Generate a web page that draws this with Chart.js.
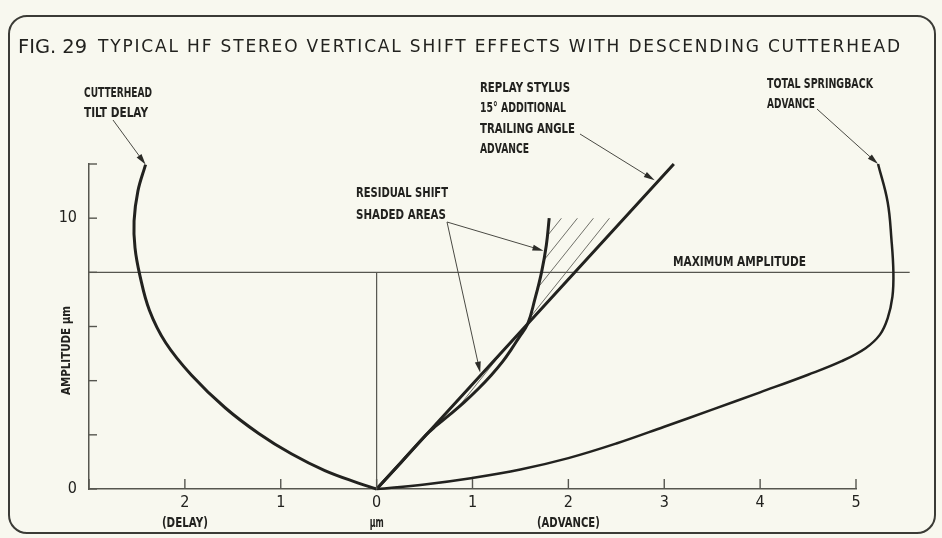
<!DOCTYPE html>
<html>
<head>
<meta charset="utf-8">
<title>Fig. 29</title>
<script src="https://cdn.jsdelivr.net/npm/chart.js@4.4.1/dist/chart.umd.min.js"></script>
<style>
  html, body { margin: 0; background: #f8f8ef; }
  canvas { display: block; }
</style>
</head>
<body>
<canvas id="shiftChart" width="942" height="538"></canvas>
<script>
// x: horizontal shift in µm (delay to the left of 0, advance to the right), y: amplitude in µm
const xTickLabels = ["", "2", "1", "0", "1", "2", "3", "4", "5"];
const xSubLabels = ["", "(DELAY)", "", "µm", "", "(ADVANCE)", "", "", ""];
const yTickLabels = ["0", "", "", "", "", "10", ""];

// cutterhead tilt delay
const tiltX = [0, -0.19, -0.54, -0.89, -1.23, -1.58, -1.93, -2.2, -2.37, -2.47, -2.52, -2.53, -2.49, -2.41];
const tiltY = [0, 0.22, 0.68, 1.3, 2.05, 3.0, 4.2, 5.4, 6.6, 7.9, 8.9, 9.9, 11.0, 11.98];

// replay stylus, 15° additional trailing angle (straight)
const stylusX = [0, 3.1];
const stylusY = [0, 12.0];

// residual shift after the stylus correction
const residualX = [0, 0.26, 0.517, 0.609, 0.747, 0.912, 1.061, 1.195, 1.314, 1.413, 1.486, 1.576, 1.65, 1.72, 1.77, 1.8];
const residualY = [0, 1, 2, 2.3, 2.7, 3.2, 3.7, 4.2, 4.7, 5.2, 5.6, 6.1, 7, 8, 9, 10];

// total springback advance
const springX = [0, 0.5, 1.0, 1.5, 2.0, 2.5, 3.0, 3.5, 4.0, 4.5, 4.85, 5.1, 5.25, 5.33, 5.38, 5.39, 5.37, 5.33, 5.23];
const springY = [0, 0.17, 0.41, 0.72, 1.14, 1.68, 2.3, 2.93, 3.57, 4.22, 4.72, 5.2, 5.7, 6.3, 7.1, 8.0, 9.2, 10.6, 12.0];

const maxAmplitude = 8;
const maxLineX = [-3, 5.56];

// y limits of the two shaded areas between stylus line and residual curve
const lensFrom = 2;
const crossing = 6.1;
const shadeTop = 10;

const ink = "#22221f";
const guide = "#56564f";
const paper = "#f8f8ef";
const narrow = "'Liberation Sans Narrow', 'DejaVu Sans Condensed', sans-serif";

const pts = (xs, ys) => xs.map((x, i) => ({ x, y: ys[i] }));

const stylusSlope = stylusX[1] / stylusY[1];

// residual curve between two heights, closed back along the stylus line
function shadedArea(yFrom, yTo) {
  const area = [];
  residualY.forEach((y, i) => {
    if (y >= yFrom && y <= yTo) area.push({ x: residualX[i], y });
  });
  area.push({ x: yTo * stylusSlope, y: yTo });
  area.push({ x: yFrom * stylusSlope, y: yFrom });
  return area;
}

function hatchPattern() {
  const tile = document.createElement("canvas");
  tile.width = 16;
  tile.height = 20;
  const t = tile.getContext("2d");
  t.strokeStyle = "#707069";
  t.lineWidth = 1;
  [-16, 0, 16].forEach(dx => {
    t.beginPath();
    t.moveTo(dx, 20);
    t.lineTo(dx + 16, 0);
    t.stroke();
  });
  return t.createPattern(tile, "repeat");
}

function curve(data, width) {
  return {
    data,
    showLine: true,
    borderColor: ink,
    borderWidth: width,
    pointRadius: 0,
    tension: 0.4,
    fill: false,
    clip: false,
    order: 0
  };
}

function guideLine(data) {
  return {
    data,
    showLine: true,
    borderColor: guide,
    borderWidth: 1.2,
    pointRadius: 0,
    tension: 0,
    fill: false,
    clip: false,
    order: 1
  };
}

function shade(data) {
  return {
    data,
    showLine: true,
    borderWidth: 0,
    borderColor: "rgba(0,0,0,0)",
    backgroundColor: hatchPattern(),
    pointRadius: 0,
    tension: 0,
    fill: "shape",
    order: 2
  };
}

// text fitted to a given width, letter-spaced or squeezed
function fitText(ctx, text, x, y, width) {
  ctx.save();
  ctx.letterSpacing = "0px";
  const natural = ctx.measureText(text).width;
  ctx.translate(x, y);
  if (natural > width) {
    ctx.scale(width / natural, 1);
  } else if (text.length > 1) {
    ctx.letterSpacing = (width - natural) / (text.length - 1) + "px";
  }
  ctx.fillText(text, 0, 0);
  ctx.restore();
}

function arrow(ctx, x0, y0, x1, y1) {
  const a = Math.atan2(y1 - y0, x1 - x0);
  const c = Math.cos(a);
  const s = Math.sin(a);
  ctx.beginPath();
  ctx.moveTo(x0, y0);
  ctx.lineTo(x1 - 8 * c, y1 - 8 * s);
  ctx.stroke();
  ctx.beginPath();
  ctx.moveTo(x1, y1);
  ctx.lineTo(x1 - 11 * c + 3 * s, y1 - 11 * s - 3 * c);
  ctx.lineTo(x1 - 11 * c - 3 * s, y1 - 11 * s + 3 * c);
  ctx.closePath();
  ctx.fill();
}

// label text, left x, baseline, width
const notes = [
  ["CUTTERHEAD", 84, 97, 68],
  ["TILT DELAY", 84, 117, 64],
  ["REPLAY STYLUS", 480, 92, 90],
  ["15° ADDITIONAL", 480, 112, 86],
  ["TRAILING ANGLE", 480, 133, 95],
  ["ADVANCE", 480, 153, 49],
  ["RESIDUAL SHIFT", 356, 197, 92],
  ["SHADED AREAS", 356, 219, 90],
  ["MAXIMUM AMPLITUDE", 673, 266, 133],
  ["TOTAL SPRINGBACK", 767, 88, 106],
  ["ADVANCE", 767, 108, 48]
];

// widths of the second row under the x axis
const subWidths = { "(DELAY)": 46, "µm": 14, "(ADVANCE)": 63 };

// leader start (px) and the point on the curve it points at (data)
const leaders = [
  [113, 120, tiltX[tiltX.length - 1], tiltY[tiltY.length - 1]],
  [580, 134, 2.9, 11.4],
  [447, 222, 1.74, 8.8],
  [447, 222, 1.08, 4.3],
  [817, 109, springX[springX.length - 1], springY[springY.length - 1]]
];

const figure = {
  id: "figure",
  beforeDraw(chart) {
    const { ctx, width, height } = chart;
    ctx.save();
    ctx.fillStyle = paper;
    ctx.fillRect(0, 0, width, height);
    ctx.strokeStyle = "#3b3b36";
    ctx.lineWidth = 2;
    ctx.beginPath();
    ctx.roundRect(9, 16, 926, 517, 18);
    ctx.stroke();
    ctx.restore();
  },
  afterDraw(chart) {
    const { ctx } = chart;
    const xs = chart.scales.x;
    const ys = chart.scales.y;
    ctx.save();

    // tick marks point into the plot
    ctx.strokeStyle = guide;
    ctx.lineWidth = 1.4;
    xs.ticks.forEach(t => {
      const p = xs.getPixelForValue(t.value);
      ctx.beginPath();
      ctx.moveTo(p, ys.bottom);
      ctx.lineTo(p, ys.bottom - 10);
      ctx.stroke();
    });
    ys.ticks.forEach(t => {
      const p = ys.getPixelForValue(t.value);
      ctx.beginPath();
      ctx.moveTo(xs.left, p);
      ctx.lineTo(xs.left + 8, p);
      ctx.stroke();
    });

    ctx.fillStyle = ink;
    ctx.textAlign = "left";
    ctx.textBaseline = "alphabetic";

    ctx.font = "20px 'DejaVu Sans', sans-serif";
    fitText(ctx, "FIG. 29", 18, 53, 69);
    ctx.font = "17px 'DejaVu Sans', sans-serif";
    fitText(ctx, "TYPICAL HF STEREO VERTICAL SHIFT EFFECTS WITH DESCENDING CUTTERHEAD", 98, 52, 802);

    ctx.font = "bold 14px " + narrow;
    notes.forEach(([text, x, y, w]) => fitText(ctx, text, x, y, w));

    // second row of x labels
    ctx.font = "bold 14px " + narrow;
    xs.ticks.forEach((t, i) => {
      const sub = xSubLabels[i];
      if (!sub) return;
      const w = subWidths[sub];
      fitText(ctx, sub, xs.getPixelForValue(t.value) - w / 2, 527, w);
    });

    ctx.save();
    ctx.translate(70, 395);
    ctx.rotate(-Math.PI / 2);
    ctx.font = "bold 12px " + narrow;
    fitText(ctx, "AMPLITUDE µm", 0, 0, 89);
    ctx.restore();

    ctx.strokeStyle = "#4a4a44";
    ctx.fillStyle = "#2c2c28";
    ctx.lineWidth = 1;
    leaders.forEach(([x0, y0, tx, ty]) => {
      arrow(ctx, x0, y0, xs.getPixelForValue(tx), ys.getPixelForValue(ty));
    });

    ctx.restore();
  }
};

new Chart(document.getElementById("shiftChart"), {
  type: "scatter",
  data: {
    datasets: [
      curve(pts(tiltX, tiltY), 3),
      curve(pts(stylusX, stylusY), 3),
      curve(pts(residualX, residualY), 3),
      curve(pts(springX, springY), 2.5),
      guideLine(pts(maxLineX, [maxAmplitude, maxAmplitude])),
      guideLine(pts([0, 0], [0, maxAmplitude])),
      shade(shadedArea(crossing, shadeTop)),
      shade(shadedArea(lensFrom, crossing))
    ]
  },
  options: {
    responsive: false,
    animation: false,
    events: [],
    layout: {
      padding: { left: 49, right: 86, top: 164, bottom: 0 }
    },
    plugins: {
      legend: { display: false },
      tooltip: { enabled: false }
    },
    scales: {
      x: {
        type: "linear",
        min: -3,
        max: 5,
        afterFit: scale => { scale.height = 49; },
        ticks: {
          stepSize: 1,
          autoSkip: false,
          maxRotation: 0,
          padding: -4,
          color: ink,
          font: { family: narrow, size: 16 },
          callback: (value, i) => xTickLabels[i]
        },
        grid: { display: false },
        border: { display: true, color: guide, width: 1.5 }
      },
      y: {
        min: 0,
        max: 12,
        afterFit: scale => { scale.width = 40; },
        ticks: {
          stepSize: 2,
          autoSkip: false,
          padding: 4,
          color: ink,
          font: { family: narrow, size: 16 },
          callback: (value, i) => yTickLabels[i]
        },
        grid: { display: false },
        border: { display: true, color: guide, width: 1.5 }
      }
    }
  },
  plugins: [figure]
});
</script>
</body>
</html>
